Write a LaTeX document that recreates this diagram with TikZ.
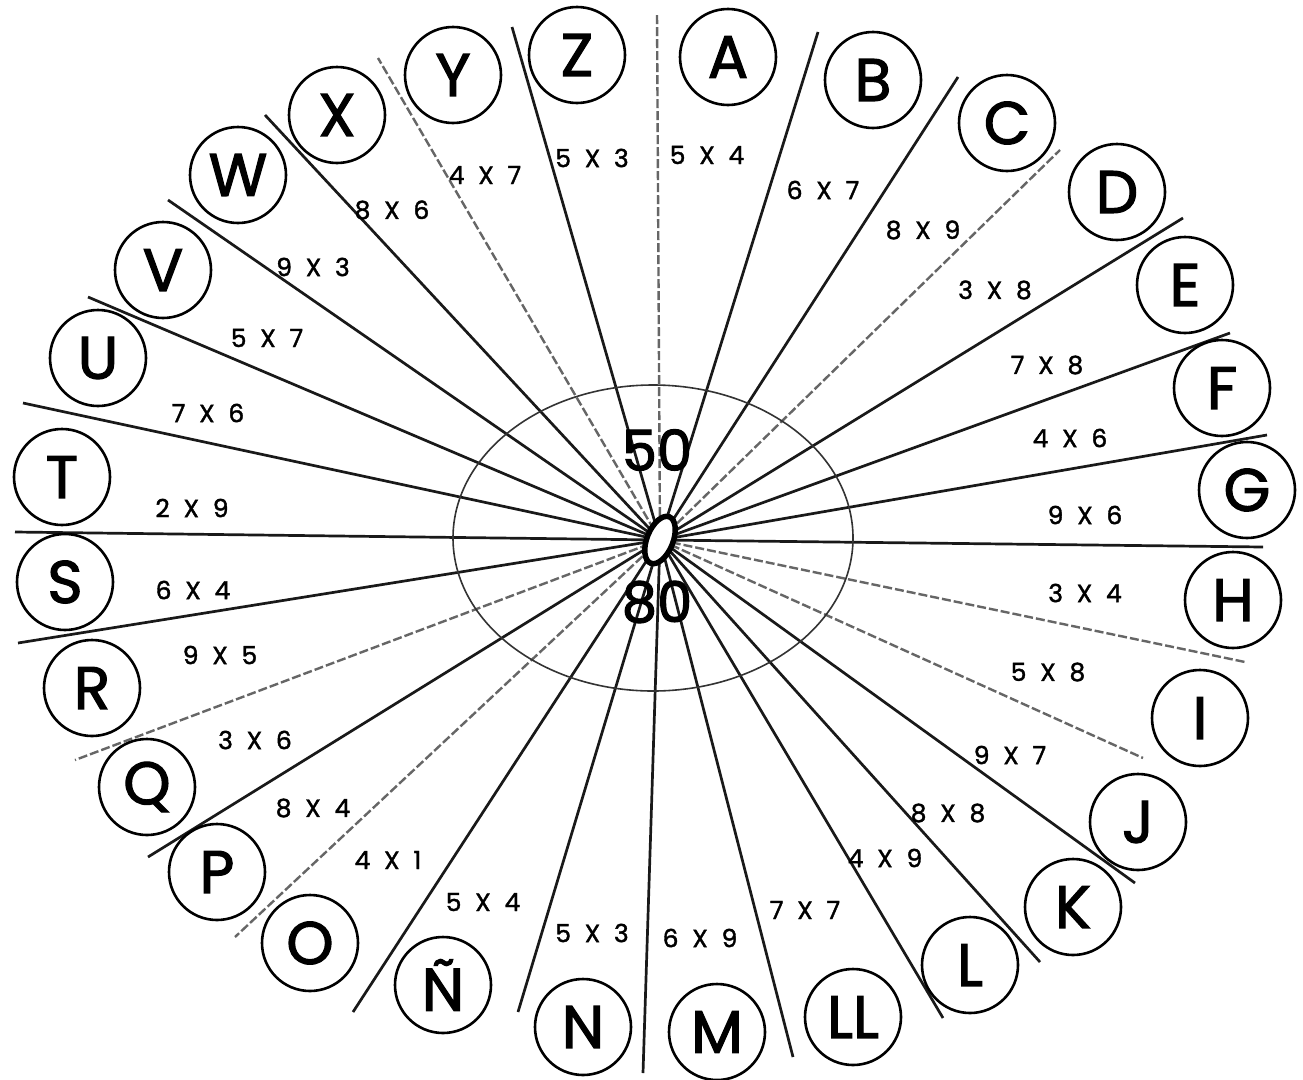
\documentclass[tikz,border=0pt]{standalone}
\usepackage{fontspec}
\setmainfont{Poppins}
\newfontfamily\handbig{Poppins}[FakeBold=2]
\newfontfamily\handsmall{Poppins}[FakeBold=1.5]
\usetikzlibrary{shapes.geometric}
\newcommand{\mxl}[2]{#1\hspace{0.55em}X\hspace{0.55em}#2}
\tikzset{
  letter/.style={draw, circle, line width=2.6pt, minimum size=96pt, inner sep=0pt, fill=white,
    font=\handbig\fontsize{60}{60}\selectfont},
  prod/.style={font=\handsmall\fontsize{25}{25}\selectfont, inner sep=1pt},
  ray/.style={line width=2.7pt, black!90},
  lightray/.style={line width=2.4pt, black!60, dash pattern=on 9pt off 3pt},
  big/.style={font=\handbig\fontsize{56}{56}\selectfont, inner sep=0pt}
}
\begin{document}
\begin{tikzpicture}[x=1pt, y=-1pt]
\useasboundingbox (0,0) rectangle (1303,1079);
\fill[white] (0,0) rectangle (1303,1079);
\coordinate (c) at (660,540);
% ray end points
\coordinate (e1) at (657,13);
\coordinate (e2) at (818,32);
\coordinate (e3) at (958,77);
\coordinate (e4) at (1060,150);
\coordinate (e5) at (1183,218);
\coordinate (e6) at (1230,333);
\coordinate (e7) at (1267,435);
\coordinate (e8) at (1263,547);
\coordinate (e9) at (1245,662);
\coordinate (e10) at (1143,758);
\coordinate (e11) at (1135,883);
\coordinate (e12) at (1040,962);
\coordinate (e13) at (943,1018);
\coordinate (e14) at (793,1057);
\coordinate (e15) at (643,1073);
\coordinate (e16) at (518,1012);
\coordinate (e17) at (353,1012);
\coordinate (e18) at (235,937);
\coordinate (e19) at (148,857);
\coordinate (e20) at (75,760);
\coordinate (e21) at (18,643);
\coordinate (e22) at (15,532);
\coordinate (e23) at (23,403);
\coordinate (e24) at (88,297);
\coordinate (e25) at (168,200);
\coordinate (e26) at (265,115);
\coordinate (e27) at (378,58);
\coordinate (e28) at (512,27);
% rays
\foreach \i in {2,3,5,6,7,8,11,12,13,14,15,16,17,19,21,22,23,24,25,26,28}
  \draw[ray] (c) -- (e\i);
\foreach \i in {1,4,9,10,18,20,27}
  \draw[lightray] (c) -- (e\i);
% big ellipse
\draw[line width=1.6pt, black!80] (653,538) ellipse (200 and 153);
% hub
\node[draw, ellipse, line width=5.5pt, fill=white, minimum width=26pt, minimum height=50pt, inner sep=0pt, rotate=-22] (hub) at (c) {};
\node[big] (n50) at (657,450) {50};
\node[big] (n80) at (657,602) {80};
% letters
\node[letter] (A) at (728,57) {A};
\node[letter] (B) at (873,80) {B};
\node[letter] (C) at (1007,123) {C};
\node[letter] (D) at (1117,192) {D};
\node[letter] (E) at (1185,285) {E};
\node[letter] (F) at (1222,388) {F};
\node[letter] (G) at (1247,490) {G};
\node[letter] (H) at (1233,600) {H};
\node[letter] (I) at (1200,718) {I};
\node[letter] (J) at (1138,822) {J};
\node[letter] (K) at (1073,907) {K};
\node[letter] (L) at (970,965) {L};
\node[letter] (LL) at (853,1017) {LL};
\node[letter] (M) at (717,1032) {M};
\node[letter] (N) at (583,1027) {N};
\node[letter] (NN) at (443,985) {Ñ};
\node[letter] (O) at (310,943) {O};
\node[letter] (P) at (217,872) {P};
\node[letter] (Q) at (147,787) {Q};
\node[letter] (R) at (92,688) {R};
\node[letter] (S) at (65,582) {S};
\node[letter] (T) at (62,477) {T};
\node[letter] (U) at (98,358) {U};
\node[letter] (V) at (163,270) {V};
\node[letter] (W) at (238,175) {W};
\node[letter] (X) at (337,115) {X};
\node[letter] (Y) at (453,75) {Y};
\node[letter] (Z) at (577,55) {Z};
% products
\node[prod] (p1) at (707,155) {\mxl{5}{4}};
\node[prod] (p2) at (823,190) {\mxl{6}{7}};
\node[prod] (p3) at (923,230) {\mxl{8}{9}};
\node[prod] (p4) at (995,290) {\mxl{3}{8}};
\node[prod] (p5) at (1047,365) {\mxl{7}{8}};
\node[prod] (p6) at (1070,438) {\mxl{4}{6}};
\node[prod] (p7) at (1085,515) {\mxl{9}{6}};
\node[prod] (p8) at (1085,593) {\mxl{3}{4}};
\node[prod] (p9) at (1048,672) {\mxl{5}{8}};
\node[prod] (p10) at (1010,755) {\mxl{9}{7}};
\node[prod] (p11) at (948,813) {\mxl{8}{8}};
\node[prod] (p12) at (885,858) {\mxl{4}{9}};
\node[prod] (p13) at (805,910) {\mxl{7}{7}};
\node[prod] (p14) at (700,938) {\mxl{6}{9}};
\node[prod] (p15) at (592,933) {\mxl{5}{3}};
\node[prod] (p16) at (483,902) {\mxl{5}{4}};
\node[prod] (p17) at (388,860) {\mxl{4}{1}};
\node[prod] (p18) at (313,808) {\mxl{8}{4}};
\node[prod] (p19) at (255,740) {\mxl{3}{6}};
\node[prod] (p20) at (220,655) {\mxl{9}{5}};
\node[prod] (p21) at (193,590) {\mxl{6}{4}};
\node[prod] (p22) at (192,508) {\mxl{2}{9}};
\node[prod] (p23) at (208,413) {\mxl{7}{6}};
\node[prod] (p24) at (267,338) {\mxl{5}{7}};
\node[prod] (p25) at (313,267) {\mxl{9}{3}};
\node[prod] (p26) at (392,210) {\mxl{8}{6}};
\node[prod] (p27) at (485,175) {\mxl{4}{7}};
\node[prod] (p28) at (592,158) {\mxl{5}{3}};
\end{tikzpicture}
\end{document}
